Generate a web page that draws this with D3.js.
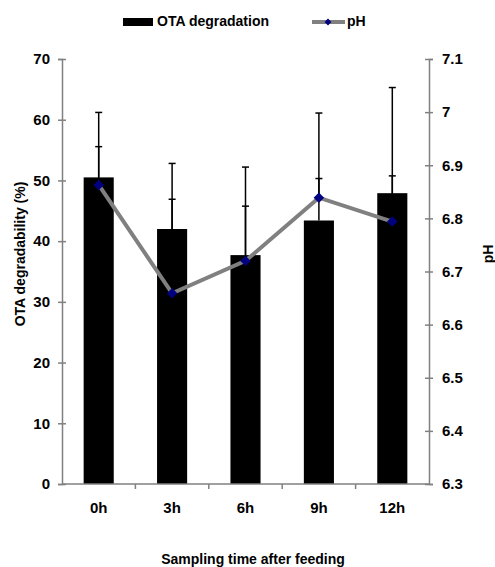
<!DOCTYPE html>
<html>
<head>
<meta charset="utf-8">
<script src="https://cdn.jsdelivr.net/npm/d3@7"></script>
<style>
  body { margin: 0; background: #fff; }
  text { font-family: "Liberation Sans", Arial, sans-serif; font-weight: bold; fill: #000; }
</style>
</head>
<body>
<svg id="chart"></svg>
<script>
// data
const times = ["0h", "3h", "6h", "9h", "12h"];
const otaMean = [50.5, 42.0, 37.7, 43.4, 47.9];
const otaSd = [10.7, 10.8, 14.5, 17.7, 17.4];
const phMean = [6.863, 6.659, 6.720, 6.839, 6.794];
const phSd = [0.072, 0.177, 0.103, 0.036, 0.086];
const leftTicks = [0, 10, 20, 30, 40, 50, 60, 70];
const rightTicks = [6.3, 6.4, 6.5, 6.6, 6.7, 6.8, 6.9, 7.0, 7.1];

const width = 495, height = 567;
const margin = { top: 59, right: 66, bottom: 83, left: 62 };
const axisGrey = "#808080";

const svg = d3.select("#chart")
    .attr("width", width)
    .attr("height", height)
    .attr("viewBox", [0, 0, width, height]);

const x = d3.scaleBand()
    .domain(times)
    .range([margin.left, width - margin.right])
    .paddingInner(0.59)
    .paddingOuter(0.295);

const yL = d3.scaleLinear().domain([0, 70]).range([height - margin.bottom, margin.top]);
const yR = d3.scaleLinear().domain([6.3, 7.1]).range([height - margin.bottom, margin.top]);

const rows = times.map((t, i) => ({ t, ota: otaMean[i], otaSd: otaSd[i], ph: phMean[i], phSd: phSd[i] }));
const cx = d => x(d.t) + x.bandwidth() / 2;

// left axis
svg.append("g")
    .attr("transform", `translate(${margin.left},0)`)
    .call(d3.axisLeft(yL).tickValues(leftTicks).tickSize(4).tickPadding(8))
    .call(g => {
        g.select(".domain").attr("stroke", axisGrey).attr("stroke-width", 1.5);
        g.selectAll(".tick line").attr("x1", 4).attr("stroke", axisGrey).attr("stroke-width", 1.5);
        g.selectAll(".tick text").attr("font-size", 15).attr("font-family", null);
    });

// right axis
svg.append("g")
    .attr("transform", `translate(${width - margin.right},0)`)
    .call(d3.axisRight(yR).tickValues(rightTicks).tickSize(4).tickPadding(9)
        .tickFormat(d => String(+d.toFixed(1))))
    .call(g => {
        g.select(".domain").attr("stroke", axisGrey).attr("stroke-width", 1.5);
        g.selectAll(".tick line").attr("x1", -4).attr("stroke", axisGrey).attr("stroke-width", 1.5);
        g.selectAll(".tick text").attr("font-size", 15).attr("font-family", null);
    });

// bars
svg.selectAll(".bar")
  .data(rows)
  .join("rect")
    .attr("class", "bar")
    .attr("x", d => x(d.t))
    .attr("y", d => yL(d.ota))
    .attr("width", x.bandwidth())
    .attr("height", d => yL(0) - yL(d.ota))
    .attr("fill", "#000");

// x axis with ticks between categories
const xAxis = svg.append("g");
xAxis.append("line")
    .attr("x1", margin.left).attr("x2", width - margin.right)
    .attr("y1", yL(0)).attr("y2", yL(0))
    .attr("stroke", axisGrey).attr("stroke-width", 1.5);
xAxis.selectAll(".xtick")
  .data(times.slice(1))
  .join("line")
    .attr("class", "xtick")
    .attr("x1", d => x(d) + x.bandwidth() / 2 - x.step() / 2)
    .attr("x2", d => x(d) + x.bandwidth() / 2 - x.step() / 2)
    .attr("y1", yL(0)).attr("y2", yL(0) + 5)
    .attr("stroke", axisGrey).attr("stroke-width", 1.5);
xAxis.selectAll(".xlabel")
  .data(times)
  .join("text")
    .attr("class", "xlabel")
    .attr("x", d => x(d) + x.bandwidth() / 2)
    .attr("y", yL(0) + 25)
    .attr("text-anchor", "middle")
    .attr("dominant-baseline", "middle")
    .attr("font-size", 15)
    .text(d => d);

// error bars (upper only)
function errorBars(cls, yScale, mean, sd) {
    const g = svg.append("g").attr("stroke", "#000").attr("stroke-width", 1.5);
    g.selectAll(`.${cls}-v`)
      .data(rows)
      .join("line")
        .attr("class", `${cls}-v`)
        .attr("x1", cx).attr("x2", cx)
        .attr("y1", d => yScale(mean(d)))
        .attr("y2", d => yScale(mean(d) + sd(d)));
    g.selectAll(`.${cls}-c`)
      .data(rows)
      .join("line")
        .attr("class", `${cls}-c`)
        .attr("x1", d => cx(d) - 3.5).attr("x2", d => cx(d) + 3.5)
        .attr("y1", d => yScale(mean(d) + sd(d)))
        .attr("y2", d => yScale(mean(d) + sd(d)));
}
errorBars("ota-err", yL, d => d.ota, d => d.otaSd);
errorBars("ph-err", yR, d => d.ph, d => d.phSd);

// pH line
svg.append("path")
    .datum(rows)
    .attr("fill", "none")
    .attr("stroke", axisGrey)
    .attr("stroke-width", 4)
    .attr("d", d3.line().x(cx).y(d => yR(d.ph)));

const diamond = d3.symbol().type(d3.symbolDiamond2).size(70);
svg.selectAll(".ph-pt")
  .data(rows)
  .join("path")
    .attr("class", "ph-pt")
    .attr("transform", d => `translate(${cx(d)},${yR(d.ph)})`)
    .attr("d", diamond)
    .attr("fill", "#000080");

// axis titles
svg.append("text")
    .attr("transform", `translate(21,254) rotate(-90)`)
    .attr("text-anchor", "middle")
    .attr("dominant-baseline", "middle")
    .attr("font-size", 14)
    .text("OTA degradability (%)");

svg.append("text")
    .attr("transform", `translate(489,254) rotate(-90)`)
    .attr("text-anchor", "middle")
    .attr("dominant-baseline", "middle")
    .attr("font-size", 14)
    .text("pH");

svg.append("text")
    .attr("x", 253)
    .attr("y", 560)
    .attr("text-anchor", "middle")
    .attr("dominant-baseline", "middle")
    .attr("font-size", 14)
    .text("Sampling time after feeding");

// legend
const legend = svg.append("g");
legend.append("rect")
    .attr("x", 123).attr("y", 18).attr("width", 30).attr("height", 8)
    .attr("fill", "#000");
legend.append("text")
    .attr("x", 157).attr("y", 22)
    .attr("dominant-baseline", "middle")
    .attr("font-size", 14)
    .text("OTA degradation");
legend.append("line")
    .attr("x1", 312).attr("x2", 345).attr("y1", 22).attr("y2", 22)
    .attr("stroke", axisGrey).attr("stroke-width", 4);
legend.append("path")
    .attr("transform", "translate(328,22)")
    .attr("d", d3.symbol().type(d3.symbolDiamond2).size(30))
    .attr("fill", "#000080");
legend.append("text")
    .attr("x", 347).attr("y", 22)
    .attr("dominant-baseline", "middle")
    .attr("font-size", 14)
    .text("pH");
</script>
</body>
</html>
